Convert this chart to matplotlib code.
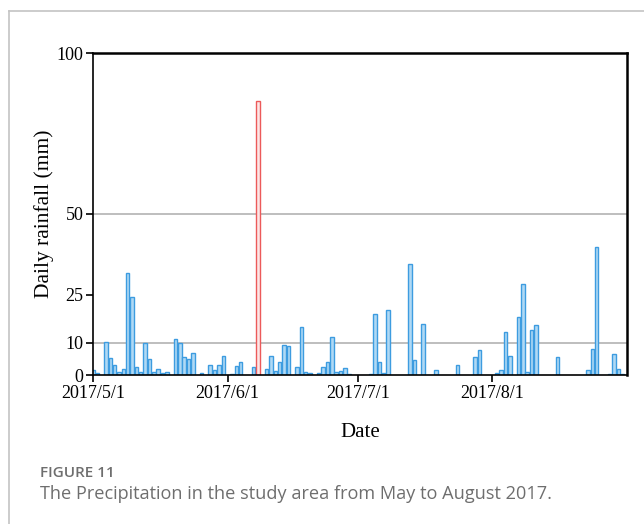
import matplotlib
matplotlib.use("Agg")
import matplotlib.pyplot as plt
import matplotlib.dates as mdates
import matplotlib.ticker as ticker
from matplotlib.lines import Line2D
import pandas as pd

# daily rainfall, May - August 2017 (days without rain are left out)
rain_dates = [
    "2017-05-01", "2017-05-02", "2017-05-04", "2017-05-05", "2017-05-06", "2017-05-07",
    "2017-05-08", "2017-05-09", "2017-05-10", "2017-05-11", "2017-05-12", "2017-05-13",
    "2017-05-14", "2017-05-15", "2017-05-16", "2017-05-17", "2017-05-18", "2017-05-20",
    "2017-05-21", "2017-05-22", "2017-05-23", "2017-05-24", "2017-05-26", "2017-05-28",
    "2017-05-29", "2017-05-30", "2017-05-31", "2017-06-02", "2017-06-03", "2017-06-04",
    "2017-06-07", "2017-06-08", "2017-06-10", "2017-06-11", "2017-06-12", "2017-06-13",
    "2017-06-14", "2017-06-15", "2017-06-17", "2017-06-18", "2017-06-19", "2017-06-20",
    "2017-06-22", "2017-06-23", "2017-06-24", "2017-06-25", "2017-06-26", "2017-06-27",
    "2017-06-28", "2017-06-29", "2017-07-04", "2017-07-05", "2017-07-06", "2017-07-07",
    "2017-07-08", "2017-07-13", "2017-07-14", "2017-07-16", "2017-07-19", "2017-07-24",
    "2017-07-28", "2017-07-29", "2017-08-02", "2017-08-03", "2017-08-04", "2017-08-05",
    "2017-08-07", "2017-08-08", "2017-08-09", "2017-08-10", "2017-08-11", "2017-08-16",
    "2017-08-23", "2017-08-24", "2017-08-25", "2017-08-28", "2017-08-29", "2017-08-30",
    "2017-08-31",
]
rain_mm = [
    1.4, 0.5, 10.1, 5.2, 3.1, 1.0,
    1.9, 31.6, 24.1, 2.4, 0.9, 9.8,
    4.9, 1.0, 1.9, 0.7, 0.8, 11.3,
    9.8, 5.5, 5.1, 6.9, 0.5, 3.1,
    1.6, 3.0, 5.9, 0.3, 2.8, 3.9,
    2.6, 85.1, 2.0, 6.0, 1.2, 4.1,
    9.3, 9.0, 2.4, 15.0, 0.8, 0.5,
    0.5, 2.4, 3.9, 11.7, 0.9, 1.3,
    2.2, 0.4, 0.4, 18.9, 3.9, 0.7,
    20.2, 34.5, 4.7, 15.8, 1.6, 3.0,
    5.6, 7.9, 0.5, 1.6, 13.4, 5.9,
    17.9, 28.3, 0.9, 14.0, 15.6, 5.7,
    1.6, 8.2, 39.9, 0.4, 6.5, 1.8,
    0.4,
]
extreme_day = "2017-06-08"

month_ticks = ["2017-05-01", "2017-06-01", "2017-07-01", "2017-08-01"]
y_ticks = [0, 10, 25, 50, 100]
grid_levels = [10, 50]

days = pd.to_datetime(rain_dates)
face = ["#fde6e6" if d == pd.Timestamp(extreme_day) else "#b0d9f5" for d in days]
edge = ["#ec5a5a" if d == pd.Timestamp(extreme_day) else "#3d9ce0" for d in days]

serif = ["Liberation Serif", "DejaVu Serif"]

fig = plt.figure(figsize=(6.44, 5.24), dpi=100)
ax = fig.add_axes([93 / 644, 1 - 375 / 524, (627 - 93) / 644, (375 - 53) / 524])

for y in grid_levels:
    ax.axhline(y, color="#b3b3b3", lw=1.2, zorder=0)

ax.bar(days, rain_mm, width=0.8, color=face, edgecolor=edge, linewidth=1.0, zorder=2)

ax.set_xlim(pd.Timestamp("2017-05-01"), pd.Timestamp("2017-09-01"))
ax.set_ylim(0, 100)

ax.set_xticks(pd.to_datetime(month_ticks))
ax.xaxis.set_major_formatter(ticker.FuncFormatter(
    lambda v, pos: (lambda d: f"{d.year}/{d.month}/{d.day}")(mdates.num2date(v))))
ax.set_yticks(y_ticks)

ax.tick_params(axis="both", direction="out", length=5, width=1.2, color="black",
               labelsize=13, pad=2)
for lab in ax.get_xticklabels() + ax.get_yticklabels():
    lab.set_fontfamily(serif)

for side in ["left", "bottom"]:
    ax.spines[side].set_linewidth(1.2)
for side in ["top", "right"]:
    ax.spines[side].set_linewidth(1.8)

ax.set_xlabel("Date", fontsize=15, family=serif, labelpad=15)
ax.set_ylabel("Daily rainfall (mm)", fontsize=15.5, family=serif, labelpad=2)

# card frame around the figure
fig.add_artist(Line2D([9 / 644, 1], [1 - 11 / 524, 1 - 11 / 524], color="#c4c4c4", lw=1.2))
fig.add_artist(Line2D([9 / 644, 9 / 644], [0, 1 - 11 / 524], color="#c4c4c4", lw=1.2))

fig.text(40 / 644, 1 - 473 / 524, "FIGURE 11", fontsize=11, family="Open Sans",
         weight="semibold", color="#6e6e6e", va="center")
fig.text(40 / 644, 1 - 494 / 524, "The Precipitation in the study area from May to August 2017.",
         fontsize=13.1, family="Open Sans", color="#6e6e6e", va="center")

fig.savefig("out.png", dpi=100)
